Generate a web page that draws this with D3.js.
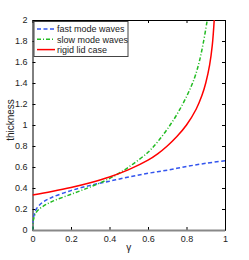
<!DOCTYPE html>
<html><head><meta charset="utf-8">
<script src="https://cdn.jsdelivr.net/npm/d3@7"></script>
<style>body{margin:0;background:#fff}svg{display:block}text{font-family:"Liberation Sans",Arial,sans-serif;fill:#222}</style>
</head><body><svg id="c" width="249" height="260"></svg>
<script>
const fastGamma = [0, 0.003, 0.008, 0.02, 0.05, 0.1, 0.2, 0.3, 0.4, 0.5, 0.6, 0.7, 0.8, 0.9, 1.0];
const fastVals  = [0, 0.10, 0.14, 0.20, 0.26, 0.31, 0.375, 0.425, 0.465, 0.505, 0.54, 0.57, 0.605, 0.635, 0.66];
const slowGamma = [0, 0.003, 0.008, 0.02, 0.05, 0.1, 0.2, 0.3, 0.4, 0.5, 0.6, 0.65, 0.7, 0.75, 0.8, 0.84, 0.866, 0.887, 0.908];
const slowVals  = [0, 0.08, 0.12, 0.17, 0.22, 0.27, 0.34, 0.41, 0.49, 0.6, 0.74, 0.84, 0.96, 1.1, 1.27, 1.44, 1.6, 1.78, 2.0];
const rigidGamma = [0, 0.1, 0.2, 0.3, 0.4, 0.5, 0.6, 0.65, 0.7, 0.75, 0.8, 0.85, 0.88, 0.9, 0.92, 0.934, 0.944];
const rigidVals  = [0.333, 0.367, 0.405, 0.45, 0.505, 0.575, 0.665, 0.725, 0.80, 0.89, 1.0, 1.15, 1.28, 1.40, 1.57, 1.76, 2.0];
const xTicks = [0, 0.2, 0.4, 0.6, 0.8, 1];
const yTicks = [0, 0.2, 0.4, 0.6, 0.8, 1, 1.2, 1.4, 1.6, 1.8, 2];
const seriesNames = ["fast mode waves", "slow mode waves", "rigid lid case"];

const svg = d3.select("#c");
const x = d3.scaleLinear().domain([0, 1]).range([32.5, 225]);
const y = d3.scaleLinear().domain([0, 2]).range([230, 20]);

svg.append("defs").append("clipPath").attr("id","clip").append("rect")
  .attr("x",32.5).attr("y",20).attr("width",192.5).attr("height",210);

const series = [
  {g: fastGamma, v: fastVals, color: "#3355ee", dash: "4,2.5"},
  {g: slowGamma, v: slowVals, color: "#22bb22", dash: "4,2,1,2"},
  {g: rigidGamma, v: rigidVals, color: "#ff0000", dash: null}
];
const line = d3.line().x(d => x(d[0])).y(d => y(d[1])).curve(d3.curveCatmullRom.alpha(0.5));

// axes
const ax = svg.append("g");
ax.append("g").attr("transform","translate(0,230)").call(d3.axisBottom(x).tickValues(xTicks).tickSizeInner(-3).tickSizeOuter(0).tickPadding(6).tickFormat(d3.format("")));
ax.append("g").attr("transform","translate(0,20)").call(d3.axisTop(x).tickValues(xTicks).tickSizeInner(-3).tickSizeOuter(0).tickFormat(""));
ax.append("g").attr("transform","translate(32.5,0)").call(d3.axisLeft(y).tickValues(yTicks).tickSizeInner(-3).tickSizeOuter(0).tickPadding(5).tickFormat(d3.format("")));
ax.append("g").attr("transform","translate(225,0)").call(d3.axisRight(y).tickValues(yTicks).tickSizeInner(-3).tickSizeOuter(0).tickFormat(""));
ax.selectAll(".domain").attr("stroke","#000").attr("stroke-width",1);
ax.selectAll(".tick line").attr("stroke","#000");
ax.selectAll(".tick text").attr("font-size","9px").attr("fill","#222").attr("font-family","Liberation Sans, Arial, sans-serif");

// series
const plot = svg.append("g").attr("clip-path","url(#clip)");
series.forEach(s => {
  const pts = s.g.map((g,i)=>[g, s.v[i]]);
  plot.append("path").datum(pts).attr("d", line).attr("fill","none")
    .attr("stroke", s.color).attr("stroke-width",1.5)
    .attr("stroke-dasharray", s.dash);
});
// grey bottom axis line
svg.append("line").attr("x1",x(0)).attr("x2",x(1)).attr("y1",y(0)+0.5).attr("y2",y(0)+0.5)
  .attr("stroke","#888").attr("stroke-width",2);

// labels
svg.append("text").attr("x", 128.75).attr("y", 251).attr("text-anchor","middle").attr("font-size","10px").text("γ");
svg.append("text").attr("transform","translate(14,120) rotate(-90)").attr("text-anchor","middle").attr("font-size","10px").text("thickness");

// legend
const lg = svg.append("g");
lg.append("rect").attr("x",34).attr("y",21.5).attr("width",94).attr("height",35)
  .attr("fill","#fff").attr("stroke","#444").attr("stroke-width",1);
series.forEach((s,i) => {
  const yy = 29 + i*10.3;
  lg.append("line").attr("x1",37).attr("x2",55).attr("y1",yy).attr("y2",yy)
    .attr("stroke", s.color).attr("stroke-width",1.5).attr("stroke-dasharray", s.dash);
  lg.append("text").attr("x",57).attr("y",yy+3.2).attr("font-size","9px").text(seriesNames[i]);
});
</script></body></html>
